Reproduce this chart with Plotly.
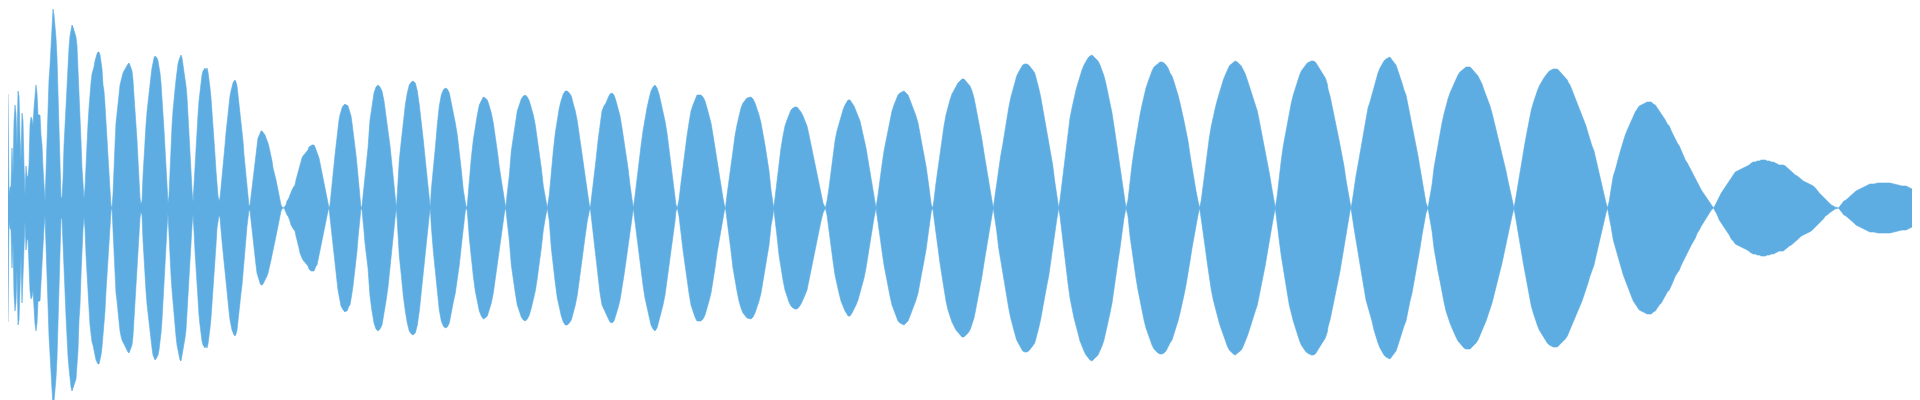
import plotly.graph_objects as go

# Waveform envelope (peak amplitude, full scale = 200).
# Attack / early section: one value per ms, t = 0 .. 359 ms
early_amp = [
    114, 12, 21, 21, 60, 33, 86, 103, 94, 62,
    117, 112, 72, 48, 95, 87, 43, 13, 42, 32,
    31, 43, 83, 91, 89, 82, 100, 116, 123, 115,
    93, 93, 93, 73, 63, 40, 20, 7, 35, 70,
    97, 128, 142, 162, 183, 199, 193, 183, 170, 150,
    113, 87, 47, 10, 11, 28, 62, 83, 108, 132,
    148, 160, 172, 179, 183, 181, 177, 174, 171, 162,
    142, 112, 97, 67, 40, 21, 9, 20, 47, 67,
    84, 100, 117, 125, 134, 137, 141, 147, 152, 154,
    156, 156, 153, 147, 139, 123, 117, 103, 83, 63,
    45, 33, 18, 3, 0, 14, 32, 63, 85, 93,
    100, 113, 123, 128, 132, 135, 137, 139, 141, 142,
    144, 145, 143, 140, 137, 128, 112, 100, 85, 68,
    48, 28, 10, 4, 7, 32, 53, 68, 83, 96,
    107, 117, 123, 132, 140, 147, 150, 152, 151, 150,
    147, 142, 135, 125, 112, 95, 78, 60, 41, 20,
    5, 12, 43, 67, 82, 97, 105, 118, 128, 137,
    144, 148, 152, 153, 150, 144, 137, 130, 122, 111,
    95, 77, 58, 37, 18, 6, 23, 43, 63, 78,
    93, 107, 117, 127, 133, 137, 139, 140, 138, 140,
    136, 130, 120, 110, 98, 85, 70, 53, 37, 20,
    12, 7, 10, 20, 33, 43, 53, 63, 75, 85,
    94, 103, 112, 117, 122, 125, 127, 128, 126, 122,
    113, 105, 95, 85, 77, 67, 53, 43, 30, 18,
    8, 2, 3, 12, 18, 30, 38, 48, 57, 65,
    70, 72, 75, 77, 77, 76, 75, 73, 70, 68,
    65, 61, 57, 52, 47, 40, 37, 32, 28, 23,
    17, 12, 8, 3, 1, 0, 0, 2, 3, 7,
    8, 10, 13, 17, 18, 20, 22, 23, 28, 32,
    37, 40, 45, 48, 50, 52, 53, 55, 56, 57,
    58, 61, 62, 63, 63, 63, 63, 61, 58, 57,
    53, 50, 45, 40, 35, 30, 23, 18, 13, 8,
    3, 0, 3, 15, 23, 33, 43, 53, 63, 73,
    82, 88, 93, 98, 100, 102, 103, 104, 103, 103,
    102, 98, 97, 92, 85, 78, 72, 63, 53, 43,
    30, 18, 8, 0, 2, 12, 23, 35, 45, 53,
]

# Later sections: (time ms, amplitude) samples
seg_360 = [
    (360, 60), (362, 88), (364, 103), (366, 115), (368, 121), (370, 123), (372, 121), (374, 117),
    (376, 107), (378, 93), (380, 79), (382, 62), (384, 43), (386, 22), (387.3, 8), (388.3, 0),
    (389.3, 14), (391.3, 48), (393.3, 67), (395.3, 88), (397.3, 103), (399.3, 115), (401.3, 123),
    (403.3, 126), (405, 127), (407.3, 125), (409.3, 117), (411.3, 103), (413.3, 87), (415.3, 68),
    (417.3, 48), (419.3, 27), (421.3, 7), (422.3, 0), (423.3, 18), (425.3, 43), (427.3, 60),
    (429.3, 83), (431.3, 102), (433.3, 113), (435.3, 118), (437.3, 120), (439.3, 119), (441.3, 115),
    (443.3, 106), (445.3, 94), (447.3, 85), (449.3, 73), (451.3, 57), (453.3, 38), (455.3, 18),
    (457.3, 3), (458.3, 0), (459.3, 3), (461.3, 30), (463.3, 50), (465.3, 68), (467.3, 83),
    (469.3, 93), (471.3, 103), (473.3, 108), (475.3, 111), (477.3, 110), (479.3, 108), (481.3, 102),
    (483.3, 95), (485.3, 85), (487.3, 73), (489.3, 57), (491.3, 41), (493.3, 27), (495.3, 13),
    (496.7, 3), (497.7, 0), (499.3, 15), (501.3, 32), (503.3, 57), (505.3, 72), (507.3, 85),
    (509.3, 97), (511.3, 103), (513.3, 109), (515.3, 112), (517.3, 113), (519.3, 111), (521.3, 107),
    (523.3, 100), (525.3, 93), (527.3, 83), (529.3, 70), (531.3, 57), (533.3, 40), (535.3, 22),
    (537.3, 10), (539.3, 0), (541.3, 13), (543.3, 40), (545.3, 57), (547.3, 75), (549.3, 90),
    (551.3, 100), (553.3, 108), (555.3, 114), (557.3, 117), (559.3, 117), (561.3, 115), (563.3, 112),
    (565.3, 104), (567.3, 97), (569.3, 87), (571.3, 73), (573.3, 58), (575.3, 42), (577.3, 27),
    (579.3, 13), (581.3, 3), (582.3, 0), (584, 13), (586, 30), (588, 48), (590, 67), (592, 85),
    (594, 97), (596, 102), (598, 105),
]

seg_600 = [
    (600, 110), (602, 114), (604, 115), (606, 113), (608, 107), (610, 100), (612, 92), (614, 80),
    (616, 67), (618, 53), (620, 40), (622, 23), (624, 10), (625.3, 0), (627, 12), (629, 30),
    (631, 45), (633, 62), (635, 77), (637, 90), (639, 100), (641, 109), (643, 117), (645, 121),
    (647, 123), (649, 120), (651, 114), (653, 105), (655, 97), (657, 87), (659, 75), (661, 60),
    (663, 45), (665, 28), (667, 13), (668, 3), (669.3, 0), (671, 8), (673, 25), (675, 42),
    (677, 58), (679, 72), (681, 85), (683, 97), (685, 103), (687, 109), (689, 113), (691, 113),
    (693, 113), (695, 111), (697, 107), (699, 100), (701, 93), (703, 85), (705, 73), (707, 60),
    (709, 45), (711, 32), (713, 20), (715, 10), (716.5, 2), (717.5, 0), (719, 13), (721, 28),
    (723, 43), (725, 60), (727, 72), (729, 83), (731, 93), (733, 100), (735, 105), (737, 108),
    (739, 110), (743, 111), (745, 109), (747, 105), (749, 100), (751, 93), (753, 85), (755, 75),
    (757, 63), (759, 50), (761, 37), (763, 18), (765, 7), (765.7, 0), (767, 10), (769, 28),
    (771, 47), (773, 60), (775, 72), (777, 82), (779, 88), (781, 94), (783, 98), (785, 100),
    (787, 101), (789, 101), (791, 99), (793, 96), (795, 92), (797, 87), (799, 82), (801, 73),
    (803, 63), (805, 53), (807, 43), (809, 33), (811, 23), (813, 13), (815, 5), (817.3, 0),
    (819, 7), (821, 20), (823, 37), (825, 53), (827, 67), (829, 77), (831, 85), (833, 93),
    (835, 98), (837, 103), (839, 106),
]

seg_840 = [
    (840, 108), (842, 108), (844, 105), (846, 102), (848, 97), (850, 92), (852, 87), (854, 78),
    (856, 70), (858, 60), (860, 48), (862, 35), (864, 23), (866, 10), (868, 0), (870, 13),
    (872, 30), (874, 43), (876, 57), (878, 68), (880, 78), (882, 88), (884, 97), (886, 103),
    (888, 108), (890, 113), (892, 115), (894, 116), (896, 117), (898, 115), (900, 113), (902, 108),
    (904, 103), (906, 98), (908, 92), (910, 85), (912, 75), (914, 65), (916, 53), (918, 42),
    (920, 28), (922, 13), (923.3, 3), (924.7, 0), (926, 8), (928, 25), (930, 40), (932, 55),
    (934, 68), (936, 82), (938, 93), (940, 102), (942, 108), (944, 114), (946, 118), (948, 122),
    (950, 125), (952, 127), (954, 129), (956, 129), (958, 127), (960, 125), (962, 122), (964, 117),
    (966, 110), (968, 100), (970, 90), (972, 80), (974, 68), (976, 55), (978, 42), (980, 30),
    (982, 18), (984, 7), (985.3, 0), (986.7, 10), (988.7, 23), (990.7, 40), (992.7, 52),
    (994.7, 63), (996.7, 77), (998.7, 88), (1000.7, 100), (1002.7, 110), (1004.7, 118),
    (1006.7, 125), (1008.7, 132), (1010.7, 136), (1012.7, 139), (1014.7, 143), (1016.7, 144),
    (1018.7, 144), (1020.7, 143), (1022.7, 141), (1024.7, 138), (1026.7, 135), (1028.7, 128),
    (1030.7, 120), (1032.7, 111), (1034.7, 100), (1036.7, 90), (1038.7, 78), (1040.7, 68),
    (1042.7, 55), (1044.7, 43), (1046.7, 27), (1048.7, 12), (1050.7, 0), (1052, 8), (1054, 25),
    (1056, 43), (1058, 60), (1060, 75), (1062, 90), (1064, 100), (1066, 110), (1068, 118),
    (1070, 125), (1072, 133), (1074, 138), (1076, 143), (1078, 147),
]

seg_1080 = [
    (1080, 150), (1082, 152), (1084, 153), (1086, 151), (1088, 149), (1090, 147), (1092, 143),
    (1094, 138), (1096, 132), (1098, 124), (1100, 115), (1102, 105), (1104, 95), (1106, 82),
    (1108, 68), (1110, 53), (1112, 40), (1114, 27), (1116, 10), (1118, 0), (1120, 8), (1122, 28),
    (1124, 43), (1126, 57), (1128, 70), (1130, 82), (1132, 93), (1134, 103), (1136, 112),
    (1138, 120), (1140, 126), (1142, 132), (1144, 137), (1146, 141), (1148, 143), (1150, 145),
    (1152, 146), (1154, 146), (1156, 145), (1158, 143), (1160, 140), (1162, 135), (1164, 132),
    (1166, 126), (1168, 120), (1170, 113), (1172, 105), (1174, 97), (1176, 87), (1178, 77),
    (1180, 67), (1182, 53), (1184, 40), (1186, 28), (1188, 17), (1190, 7), (1191.7, 0),
    (1193.3, 8), (1195.3, 25), (1197.3, 40), (1199.3, 55), (1201.3, 70), (1203.3, 82),
    (1205.3, 92), (1207.3, 100), (1209.3, 108), (1211.3, 115), (1213.3, 121), (1215.3, 128),
    (1217.3, 133), (1219.3, 138), (1221.3, 142), (1223.3, 144), (1225.3, 146), (1227.3, 147),
    (1229.3, 146), (1231.3, 144), (1233.3, 142), (1235.3, 138), (1237.3, 134), (1239.3, 128),
    (1241.3, 122), (1243.3, 115), (1245.3, 110), (1247.3, 103), (1249.3, 97), (1251.3, 87),
    (1253.3, 77), (1255.3, 67), (1257.3, 57), (1259.3, 45), (1261.3, 35), (1263.3, 23),
    (1265.3, 10), (1267.3, 0), (1269.3, 13), (1271.3, 33), (1273.3, 48), (1275.3, 62),
    (1277.3, 73), (1279.3, 85), (1281.3, 97), (1283.3, 105), (1285.3, 113), (1287.3, 120),
    (1289.3, 126), (1291.3, 132), (1293.3, 137), (1295.3, 140), (1297.3, 143), (1299.3, 145),
    (1301.3, 146), (1303.3, 147), (1305.3, 147), (1307.3, 146), (1309.3, 143), (1311.3, 140),
    (1313.3, 137), (1315.3, 133), (1317.3, 130), (1319.3, 124),
]

seg_1320 = [
    (1320, 119), (1322, 112), (1324, 103), (1326, 93), (1328, 83), (1330, 73), (1332, 63),
    (1334, 53), (1336, 42), (1338, 28), (1340, 15), (1342, 3), (1343, 0), (1344, 5), (1346, 20),
    (1348, 32), (1350, 43), (1352, 55), (1354, 67), (1356, 80), (1358, 92), (1360, 100),
    (1362, 106), (1364, 113), (1366, 122), (1368, 129), (1370, 135), (1372, 140), (1374, 144),
    (1376, 147), (1378, 149), (1380, 150), (1382, 151), (1384, 148), (1386, 146), (1388, 143),
    (1390, 137), (1392, 132), (1394, 125), (1396, 118), (1398, 113), (1400, 103), (1402, 93),
    (1404, 85), (1406, 75), (1408, 63), (1410, 52), (1412, 40), (1414, 27), (1416, 15),
    (1418, 5), (1420, 0), (1422, 10), (1424, 23), (1426, 40), (1428, 52), (1430, 63),
    (1432, 73), (1434, 85), (1436, 94), (1438, 103), (1440, 109), (1442, 115), (1444, 120),
    (1446, 125), (1448, 129), (1450, 133), (1452, 136), (1454, 138), (1456, 140), (1458, 141),
    (1460, 141), (1462, 141), (1464, 139), (1466, 137), (1468, 135), (1470, 132), (1472, 128),
    (1474, 124), (1476, 118), (1478, 113), (1480, 107), (1482, 102), (1484, 95), (1486, 87),
    (1488, 78), (1490, 72), (1492, 63), (1494, 55), (1496, 47), (1498, 37), (1500, 27),
    (1502, 18), (1504, 8), (1506, 0), (1507.3, 7), (1509.3, 18), (1511.3, 30), (1513.3, 43),
    (1515.3, 55), (1517.3, 67), (1519.3, 78), (1521.3, 88), (1523.3, 98), (1525.3, 105),
    (1527.3, 112), (1529.3, 117), (1531.3, 122), (1533.3, 126), (1535.3, 129), (1537.3, 132),
    (1539.3, 135), (1541.3, 137), (1543.3, 138), (1545.3, 139), (1547.3, 139), (1549.3, 139),
    (1551.3, 137), (1553.3, 135), (1555.3, 133), (1557.3, 131), (1559.3, 128),
]

seg_1560 = [
    (1560, 126), (1562, 123), (1564, 118), (1566, 113), (1568, 108), (1570, 103), (1572, 98),
    (1574, 93), (1576, 87), (1578, 82), (1580, 75), (1582, 68), (1584, 62), (1586, 57),
    (1588, 48), (1590, 40), (1592, 32), (1594, 22), (1596, 13), (1598, 5), (1599.5, 0),
    (1601.3, 7), (1603.3, 20), (1605.3, 32), (1607.3, 38), (1609.3, 47), (1611.3, 53),
    (1613.3, 60), (1615.3, 67), (1617.3, 73), (1619.3, 78), (1621.3, 83), (1623.3, 88),
    (1625.3, 93), (1627.3, 96), (1629.3, 99), (1631.3, 102), (1633.3, 103), (1635.3, 104),
    (1637.3, 105), (1639.3, 106), (1641.3, 106), (1643.3, 106), (1645.3, 104), (1647.3, 103),
    (1649.3, 100), (1651.3, 97), (1653.3, 95), (1655.3, 92), (1657.3, 88), (1659.3, 84),
    (1661.3, 82), (1663.3, 77), (1665.3, 73), (1667.3, 68), (1669.3, 65), (1671.3, 62),
    (1673.3, 57), (1675.3, 53), (1677.3, 48), (1679.3, 45), (1681.3, 41), (1683.3, 37),
    (1685.3, 33), (1687.3, 30), (1689.3, 25), (1691.3, 22), (1693.3, 18), (1695.3, 15),
    (1697.3, 12), (1699.3, 8), (1701.3, 5), (1703.3, 2), (1705.5, 0), (1707.3, 3), (1709.3, 7),
    (1711.3, 12), (1713.3, 15), (1715.3, 18), (1717.3, 21), (1719.3, 24), (1721.3, 27),
    (1723.3, 31), (1725.3, 33), (1727.3, 36), (1729.3, 37), (1731.3, 38), (1733.3, 39),
    (1735.3, 40), (1737.3, 41), (1739.3, 42), (1741.3, 43), (1743.3, 45), (1745.3, 46),
    (1747.3, 46), (1749.3, 47), (1751.3, 47), (1753.3, 48), (1755.3, 48), (1757.3, 48),
    (1759.3, 47), (1761.3, 47), (1763.3, 46), (1765.3, 46), (1767.3, 45), (1769.3, 44),
    (1771.3, 43), (1773.3, 43), (1775.3, 43), (1777.3, 42), (1779.3, 40), (1781.3, 38),
    (1783.3, 37), (1785.3, 35), (1787.3, 33), (1789.3, 32), (1791.3, 30), (1793.3, 28),
    (1795.3, 27), (1797.3, 26), (1799.3, 25), (1801.3, 24), (1803.3, 23), (1805.3, 22),
    (1807.3, 20), (1809.3, 17), (1811.3, 15), (1813.3, 13), (1815.3, 11), (1817.3, 8),
    (1819.3, 7), (1821.3, 5), (1823.3, 3), (1825.3, 2), (1827, 1), (1830.5, 0), (1832, 2),
    (1834, 4), (1836, 7), (1838, 8), (1840, 10), (1842, 12), (1844, 13), (1846, 15), (1848, 17),
    (1850, 18), (1852, 19), (1854, 20), (1856, 21), (1858, 22), (1860, 23), (1862, 24),
    (1866, 24), (1870, 25), (1876, 25), (1882, 25), (1886, 24), (1890, 23), (1894, 22),
    (1898, 22), (1900, 21), (1904, 19), (1908, 17), (1912, 15), (1916, 13), (1918, 12),
    (1920, 7),
]

WAVE_COLOR = "#5DADE2"

late_segments = [seg_360, seg_600, seg_840, seg_1080, seg_1320, seg_1560]
t = list(range(len(early_amp))) + [p[0] for seg in late_segments for p in seg]
amp = list(early_amp) + [p[1] for seg in late_segments for p in seg]

# Symmetric envelope polygon: upper edge left->right, lower edge right->left
x_poly = t + t[::-1]
y_poly = amp + [-v for v in amp[::-1]]

fig = go.Figure(
    go.Scatter(
        x=x_poly,
        y=y_poly,
        mode="lines",
        fill="toself",
        fillcolor=WAVE_COLOR,
        line=dict(color=WAVE_COLOR, width=0.6),
        hoverinfo="skip",
    )
)

fig.update_layout(
    width=1920,
    height=400,
    margin=dict(l=0, r=0, t=0, b=0),
    paper_bgcolor="white",
    plot_bgcolor="white",
    showlegend=False,
    xaxis=dict(visible=False, range=[0, 1920], fixedrange=True),
    yaxis=dict(visible=False, range=[-200, 200], fixedrange=True),
)

fig.write_html("out.html", config={"displayModeBar": False})
